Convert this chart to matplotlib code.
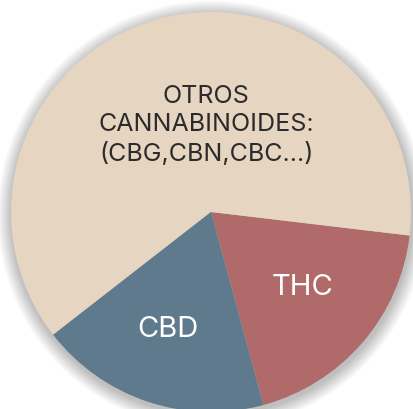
import numpy as np
import matplotlib.pyplot as plt
from matplotlib.patches import Circle

# slice data (percent), counter-clockwise from THC
labels = ["THC", "OTROS\nCANNABINOIDES:\n(CBG,CBN,CBC...)", "CBD"]
values = [18.9, 62.4, 18.7]
colors = ["#B06A6A", "#E6D5C1", "#5E7A8C"]
text_colors = ["white", "#2B2B2B", "white"]
font_sizes = [21, 18, 21]
# label placement: (angle offset from wedge middle in deg, radius fraction)
label_pos = [(1.5, 0.59), (-12.5, 0.44), (-2.0, 0.62)]

W, H = 413, 410
CX, CY, R = 211, H - 213, 200

fig = plt.figure(figsize=(W / 100, H / 100), dpi=100)
ax = fig.add_axes([0, 0, 1, 1])

# soft drop shadow
for k in range(16):
    ax.add_patch(Circle((CX + 1, CY - 3), R + 1 + k * 0.9, color="black",
                        alpha=0.016, lw=0, zorder=0))

wedges, _ = ax.pie(values, colors=colors, startangle=-74.8, counterclock=True,
                   center=(CX, CY), radius=R, frame=True,
                   wedgeprops=dict(linewidth=0))
ax.set_xlim(0, W)
ax.set_ylim(0, H)
ax.set_aspect("equal")
ax.axis("off")

for w, lab, tc, fs, (da, rf) in zip(wedges, labels, text_colors, font_sizes, label_pos):
    mid = np.deg2rad((w.theta1 + w.theta2) / 2 + da)
    x = CX + rf * R * np.cos(mid)
    y = CY + rf * R * np.sin(mid)
    ax.text(x, y, lab, ha="center", va="center", color=tc, fontsize=fs,
            family="Inter", linespacing=1.3, zorder=5)

fig.savefig("out.png", dpi=100, facecolor="white")
